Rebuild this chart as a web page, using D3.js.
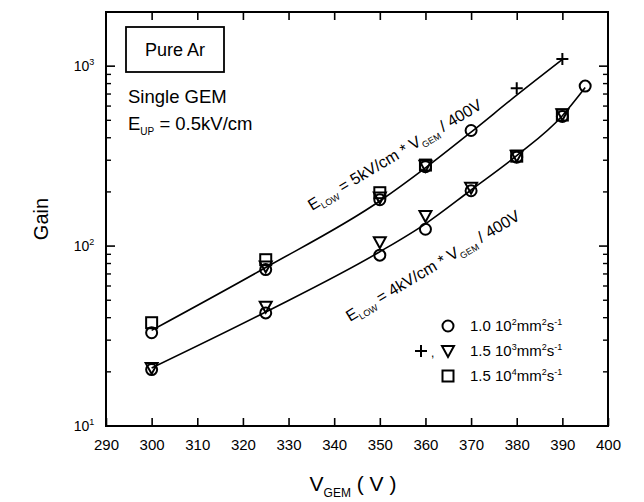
<!DOCTYPE html>
<html>
<head>
<meta charset="utf-8">
<script src="https://cdn.jsdelivr.net/npm/d3@7"></script>
<style>
  html, body { margin: 0; padding: 0; background: #fff; }
  svg { display: block; font-family: "Liberation Sans", Arial, sans-serif; }
</style>
</head>
<body>
<svg id="chart" width="644" height="502"></svg>
<script>
// Gain vs GEM voltage, pure Ar, single GEM, for several rates
const xTickValues = [290, 300, 310, 320, 330, 340, 350, 360, 370, 380, 390, 400];
const yDecades = [1, 2, 3];

// measured points [V_GEM, gain]
const circles = [
  [300, 33], [325, 74], [350, 181], [360, 276], [370, 439],
  [300, 20.6], [325, 42.5], [350, 89], [360, 124], [370, 203], [380, 312], [390, 525], [395, 775]
];
const triangles = [
  [300, 21], [325, 46], [350, 105], [360, 147], [370, 211], [380, 318], [390, 540],
  [325, 77], [350, 186], [360, 280]
];
const squares = [
  [300, 37.5], [325, 84], [350, 198], [360, 282], [380, 316], [390, 535]
];
const pluses = [[380, 753], [390, 1095]];

// fitted curves
const fitHigh = [[300, 34], [325, 76], [350, 178], [360, 272], [370, 430], [380, 690], [390, 1090]];
const fitLow = [[300, 21], [325, 43], [350, 93], [360, 133], [370, 205], [380, 318], [390, 530], [395, 760]];

const legendRows = [
  { mant: "1.0 10", exp: "2", sym: ["circle"] },
  { mant: "1.5 10", exp: "3", sym: ["plus", "triangle"] },
  { mant: "1.5 10", exp: "4", sym: ["square"] }
];

const svg = d3.select("#chart");
const margin = { left: 106, top: 12, right: 644 - 608, bottom: 502 - 426 };
const W = 644 - margin.left - margin.right;
const H = 502 - margin.top - margin.bottom;

const x = d3.scaleLinear().domain([290, 400]).range([margin.left, margin.left + W]);
const y = d3.scaleLog().domain([10, 2000]).range([margin.top + H, margin.top]);

const g = svg.append("g");

// frame
g.append("rect")
  .attr("x", margin.left).attr("y", margin.top)
  .attr("width", W).attr("height", H)
  .attr("fill", "none").attr("stroke", "#000").attr("stroke-width", 2);

// x ticks (inward, bottom and top)
const xAxisB = d3.axisBottom(x).tickValues(xTickValues).tickSizeInner(-8).tickSizeOuter(0).tickPadding(13);
const gxb = g.append("g").attr("transform", `translate(0,${margin.top + H})`).call(xAxisB);
gxb.select(".domain").remove();
gxb.selectAll("line").attr("stroke-width", 1.6);
gxb.selectAll("text").attr("font-size", 15).attr("fill", "#000")
  .attr("font-family", "Liberation Sans, Arial, sans-serif");

const xAxisT = d3.axisTop(x).tickValues(xTickValues.slice(1, -1)).tickSizeInner(-8).tickSizeOuter(0).tickFormat("");
const gxt = g.append("g").attr("transform", `translate(0,${margin.top})`).call(xAxisT);
gxt.select(".domain").remove();
gxt.selectAll("line").attr("stroke-width", 1.6);

// y ticks: majors and minors, inward on left and right
const yMinor = [];
for (let d = 1; d <= 3; d++) {
  for (let m = 2; m <= 9; m++) {
    const v = m * Math.pow(10, d);
    if (v <= 2000) yMinor.push(v);
  }
}
const yMajor = yDecades.map(d => Math.pow(10, d));

[[margin.left, 1], [margin.left + W, -1]].forEach(([x0, dir]) => {
  g.selectAll(null).data(yMajor.filter(v => v > 10)).enter().append("line")
    .attr("x1", x0).attr("x2", x0 + dir * 9)
    .attr("y1", d => y(d)).attr("y2", d => y(d))
    .attr("stroke", "#000").attr("stroke-width", 1.6);
  g.selectAll(null).data(yMinor).enter().append("line")
    .attr("x1", x0).attr("x2", x0 + dir * 5)
    .attr("y1", d => y(d)).attr("y2", d => y(d))
    .attr("stroke", "#000").attr("stroke-width", 1.4);
});

// y tick labels 10^n
yDecades.forEach(d => {
  const t = g.append("text")
    .attr("x", margin.left - 22).attr("y", y(Math.pow(10, d)) + 5)
    .attr("text-anchor", "middle").attr("font-size", 14);
  t.append("tspan").text("10");
  t.append("tspan").attr("dy", -6).attr("font-size", 9).text(d);
});

// axis titles
g.append("text")
  .attr("transform", `translate(48,${margin.top + H / 2}) rotate(-90)`)
  .attr("text-anchor", "middle").attr("font-size", 20).text("Gain");

const xt = g.append("text")
  .attr("x", margin.left + W / 2 - 4).attr("y", 491)
  .attr("text-anchor", "middle").attr("font-size", 21);
xt.append("tspan").text("V");
xt.append("tspan").attr("dy", 6).attr("font-size", 12).text("GEM");
xt.append("tspan").attr("dy", -6).text(" ( V )");

// fitted curves
const line = d3.line().x(d => x(d[0])).y(d => y(d[1])).curve(d3.curveMonotoneX);
[fitHigh, fitLow].forEach(f => {
  g.append("path").datum(f).attr("d", line)
    .attr("fill", "none").attr("stroke", "#000").attr("stroke-width", 1.6);
});

// marker shapes
function drawSymbol(sel, kind, cx, cy) {
  const s = sel.append("g").attr("transform", `translate(${cx},${cy})`)
    .attr("fill", "none").attr("stroke", "#000").attr("stroke-width", 2);
  if (kind === "circle") s.append("circle").attr("r", 5.5);
  if (kind === "square") s.append("rect").attr("x", -5.5).attr("y", -5.5).attr("width", 11).attr("height", 11);
  if (kind === "triangle") s.append("path").attr("d", "M-6,-5L6,-5L0,6Z");
  if (kind === "plus") s.append("path").attr("d", "M-6,0H6M0,-6V6");
}
const marks = g.append("g");
circles.forEach(d => drawSymbol(marks, "circle", x(d[0]), y(d[1])));
triangles.forEach(d => drawSymbol(marks, "triangle", x(d[0]), y(d[1])));
squares.forEach(d => drawSymbol(marks, "square", x(d[0]), y(d[1])));
pluses.forEach(d => drawSymbol(marks, "plus", x(d[0]), y(d[1])));

// annotation block
g.append("rect").attr("x", 126).attr("y", 27).attr("width", 98).attr("height", 45)
  .attr("fill", "none").attr("stroke", "#000").attr("stroke-width", 1.8);
g.append("text").attr("x", 175).attr("y", 56).attr("text-anchor", "middle")
  .attr("font-size", 18).text("Pure Ar");
g.append("text").attr("x", 128).attr("y", 103).attr("font-size", 18.5).text("Single GEM");
const eup = g.append("text").attr("x", 128).attr("y", 130).attr("font-size", 18.5);
eup.append("tspan").text("E");
eup.append("tspan").attr("dy", 5).attr("font-size", 10).text("UP");
eup.append("tspan").attr("dy", -5).text(" = 0.5kV/cm");

// rotated curve labels
function curveLabel(px, py, angle, field) {
  const t = g.append("text").attr("transform", `translate(${px},${py}) rotate(${angle})`)
    .attr("font-size", 16);
  t.append("tspan").text("E");
  t.append("tspan").attr("dy", 4).attr("font-size", 9).text("LOW");
  t.append("tspan").attr("dy", -4).text(` = ${field}kV/cm * V`);
  t.append("tspan").attr("dy", 4).attr("font-size", 9).text("GEM");
  t.append("tspan").attr("dy", -4).text(" / 400V");
}
curveLabel(312, 211, -31, 5);
curveLabel(350, 322, -31, 4);

// legend
legendRows.forEach((r, i) => {
  const ly = 326 + i * 25;
  r.sym.forEach((k, j) => {
    const cx = r.sym.length === 1 ? 448 : (j === 0 ? 421 : 448);
    drawSymbol(g, k, cx, ly);
  });
  if (r.sym.length > 1) g.append("text").attr("x", 431).attr("y", ly + 6).attr("font-size", 12).text(",");
  const t = g.append("text").attr("x", 470).attr("y", ly + 5).attr("font-size", 15);
  t.append("tspan").text(r.mant);
  t.append("tspan").attr("dy", -6).attr("font-size", 9).text(r.exp);
  t.append("tspan").attr("dy", 6).text("mm");
  t.append("tspan").attr("dy", -6).attr("font-size", 9).text("2");
  t.append("tspan").attr("dy", 6).text("s");
  t.append("tspan").attr("dy", -6).attr("font-size", 9).text("-1");
});
</script>
</body>
</html>
